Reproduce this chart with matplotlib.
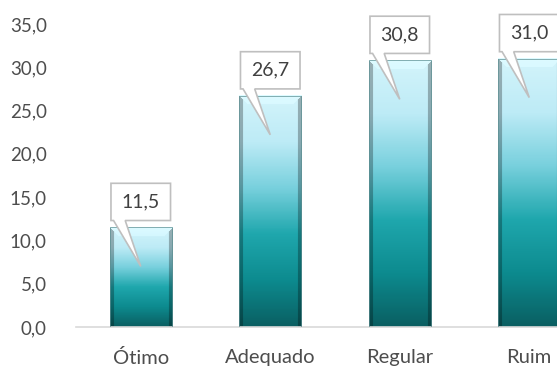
import numpy as np
import matplotlib.pyplot as plt
from matplotlib.colors import LinearSegmentedColormap
from matplotlib.patches import Polygon

categorias = ["Ótimo", "Adequado", "Regular", "Ruim"]
valores = [11.5, 26.7, 30.8, 31.0]
rotulos = ["11,5", "26,7", "30,8", "31,0"]
marcas_y = [0, 5, 10, 15, 20, 25, 30, 35]

plt.rcParams['font.family'] = ['Lato', 'DejaVu Sans']

fig = plt.figure(figsize=(5.57, 3.72), dpi=100)
ax = fig.add_axes([76 / 557, 1 - 327 / 372, (594 - 76) / 557, (327 - 24) / 372])

ax.set_xlim(-0.5, len(categorias) - 0.5)
ax.set_ylim(0, 35)

# gradiente vertical do turquesa escuro (base) ao azul claro (topo)
cmap = LinearSegmentedColormap.from_list(
    "barra", ["#0a5f62", "#0d8b8f", "#1fa7ad", "#78d0dd", "#bdebf6", "#d3f4fb"])

largura = 0.48
px_x = 62            # largura da barra em pixels
px_por_unidade = 8.66


def imagem_barra(v):
    ny = max(int(v * px_por_unidade), 10)
    nx = px_x
    yy = np.linspace(0, 1, ny)[:, None] * np.ones((1, nx))
    img = cmap(yy)
    lin = np.arange(ny)[:, None] * np.ones((1, nx))
    col = np.ones((ny, 1)) * np.arange(nx)[None, :]
    d_topo = ny - 1 - lin
    d_lado = np.minimum(col, nx - 1 - col)
    # chanfro do topo (mais claro) e das laterais (mais escuro)
    topo = (d_topo < 9) & (d_topo <= d_lado)
    lado = (d_lado < 4) & ~topo
    img[topo, :3] = np.clip(img[topo, :3] * 0.9 + 0.12, 0, 1)
    img[lado, :3] *= 0.72
    return img


for i, v in enumerate(valores):
    x0, x1 = i - largura / 2, i + largura / 2
    ax.imshow(imagem_barra(v), extent=[x0, x1, 0, v], origin="lower",
              aspect="auto", interpolation="bilinear", zorder=2)
    ax.add_patch(plt.Rectangle((x0, 0), largura, v, fill=False,
                               edgecolor="#5d8f92", lw=0.5, zorder=3))

    # balão com o valor
    bw, bh = 0.46, 4.3
    base = v + 0.8
    caixa = Polygon([
        (i - bw / 2, base), (i - 0.21, base), (i, v - 4.5), (i - 0.12, base),
        (i + bw / 2, base), (i + bw / 2, base + bh), (i - bw / 2, base + bh)],
        closed=True, facecolor="white", edgecolor="#bfbfbf", lw=1.2, zorder=4,
        clip_on=False)
    ax.add_patch(caixa)
    ax.text(i, base + bh / 2, rotulos[i], ha="center", va="center",
            fontsize=14, color="#404040", zorder=5)

ax.set_yticks(marcas_y)
ax.set_yticklabels([f"{m:.1f}".replace(".", ",") for m in marcas_y])
ax.set_xticks(range(len(categorias)))
ax.set_xticklabels(categorias)
ax.tick_params(axis="y", length=0, pad=21, labelsize=13.5, labelcolor="#4d4d4d")
ax.tick_params(axis="x", length=0, pad=16, labelsize=14.5, labelcolor="#4d4d4d")

for lado in ["top", "right", "left"]:
    ax.spines[lado].set_visible(False)
ax.spines["bottom"].set_color("#d9d9d9")
ax.spines["bottom"].set_linewidth(1.2)

fig.savefig("out.png", dpi=100)
